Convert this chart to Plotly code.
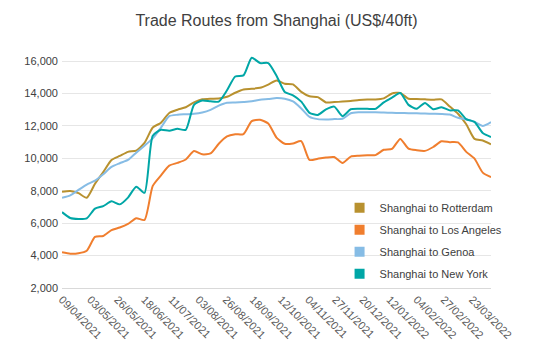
import pandas as pd
import plotly.graph_objects as go

dates = pd.date_range("2021-04-09", periods=53, freq="7D")

rotterdam = [7940, 7990, 7850, 7570, 8430, 9150, 9900, 10150, 10400, 10480,
             10950, 11900, 12200, 12800, 13000, 13150, 13450, 13640, 13680, 13690,
             13800, 14050, 14250, 14290, 14350, 14550, 14800, 14600, 14560, 14100,
             13830, 13780, 13450, 13470, 13500, 13540, 13600, 13630, 13630, 13700,
             14000, 14040, 13680, 13660, 13640, 13620, 13640, 13200, 12750, 12100,
             11200, 11100, 10870]
los_angeles = [4210, 4120, 4150, 4300, 5150, 5210, 5570, 5730, 5950, 6300,
               6200, 8300, 8950, 9550, 9720, 9930, 10450, 10250, 10300, 10900,
               11350, 11480, 11500, 12300, 12380, 12150, 11280, 10900, 10920, 11060,
               9900, 9970, 10050, 10080, 9720, 10110, 10160, 10190, 10200, 10530,
               10590, 11200, 10600, 10500, 10460, 10700, 11050, 11000, 10980, 10400,
               9980, 9120, 8840]
genoa = [7570, 7720, 8050, 8380, 8620, 9020, 9470, 9700, 9900, 10350,
         10780, 11230, 11900, 12600, 12690, 12720, 12750, 12830, 12990, 13250,
         13430, 13450, 13480, 13520, 13620, 13660, 13720, 13680, 13510, 13080,
         12560, 12420, 12400, 12420, 12440, 12780, 12840, 12850, 12850, 12830,
         12810, 12800, 12790, 12780, 12760, 12750, 12740, 12700, 12500, 12400,
         12250, 12000, 12240]
new_york = [6680, 6320, 6260, 6300, 6900, 7050, 7350, 7160, 7580, 8250,
            7870, 11400, 11760, 11700, 11820, 11760, 13300, 13570, 13520, 13500,
            14200, 15050, 15120, 16210, 15880, 15880, 15100, 14100, 13890, 13500,
            12810, 12680, 13020, 13190, 12600, 13030, 13060, 13060, 13050, 13450,
            13750, 14030, 13300, 13060, 13420, 13030, 13150, 12960, 12960, 12420,
            12250, 11560, 11320]

series_names = ["Shanghai to Rotterdam", "Shanghai to Los Angeles",
                "Shanghai to Genoa", "Shanghai to New York"]
series_values = [rotterdam, los_angeles, genoa, new_york]
colors = ["#B8912F", "#F07E2E", "#86BCE5", "#00A6A6"]

tick_dates = ["2021-04-09", "2021-05-03", "2021-05-26", "2021-06-18", "2021-07-11",
              "2021-08-03", "2021-08-26", "2021-09-18", "2021-10-12", "2021-11-04",
              "2021-11-27", "2021-12-20", "2022-01-12", "2022-02-04", "2022-02-27",
              "2022-03-23"]
y_ticks = [2000, 4000, 6000, 8000, 10000, 12000, 14000, 16000]

fig = go.Figure()
for name, vals, col in zip(series_names, series_values, colors):
    fig.add_trace(go.Scatter(x=dates, y=vals, mode="lines", name=name,
                             line=dict(color=col, width=2, shape="spline", smoothing=0.6),
                             showlegend=False, hoverinfo="x+y"))
for name, col in zip(series_names, colors):
    fig.add_trace(go.Scatter(x=[None], y=[None], mode="markers", name=name,
                             legendgroup=name,
                             marker=dict(symbol="square", size=10, color=col)))

fig.update_layout(
    width=543, height=352,
    margin=dict(l=62, r=52, t=53, b=64),
    paper_bgcolor="white", plot_bgcolor="white",
    font=dict(family="Liberation Sans, Arial, sans-serif", size=11, color="#404040"),
    title=dict(text="Trade Routes from Shanghai (US$/40ft)", x=0.5, xref="paper",
               y=1 - 20 / 352, yref="container", xanchor="center", yanchor="middle",
               font=dict(size=16, color="#404040")),
    xaxis=dict(range=[dates[0], dates[-1]], tickvals=tick_dates, tickformat="%d/%m/%Y",
               tickangle=45, showgrid=False, showline=True, linecolor="#d9d9d9",
               ticks="", tickfont=dict(size=11, color="#595959")),
    yaxis=dict(range=[2000, 16500], tickvals=y_ticks, tickformat=",d",
               showgrid=True, gridcolor="#e6e6e6", gridwidth=1, zeroline=False,
               ticks="", ticklabelstandoff=3, tickfont=dict(size=11, color="#404040")),
    legend=dict(x=0.647, y=0.403, xanchor="left", yanchor="top",
                bgcolor="rgba(0,0,0,0)", font=dict(size=11, color="#404040"),
                tracegroupgap=3, itemwidth=30),
    showlegend=True,
)

fig.write_html("out.html")
